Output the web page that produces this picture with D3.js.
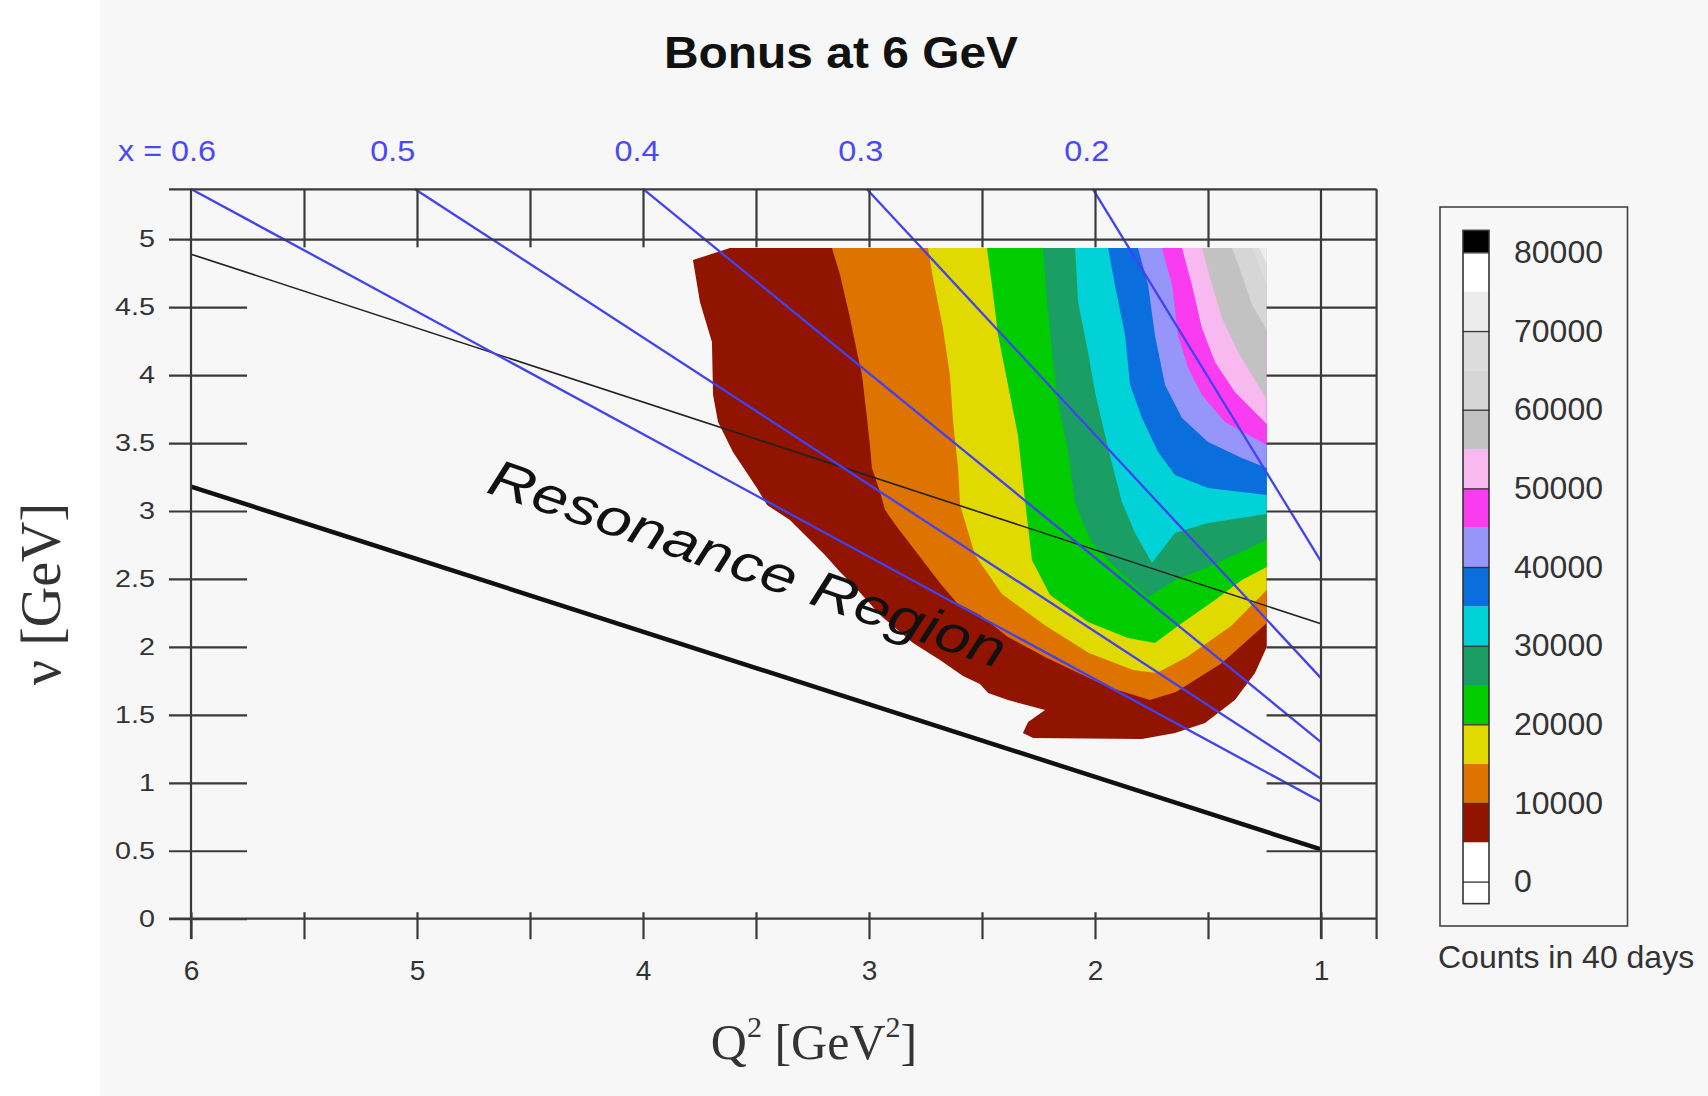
<!DOCTYPE html>
<html>
<head>
<meta charset="utf-8">
<title>Bonus at 6 GeV</title>
<script src="https://d3js.org/d3.v7.min.js"></script>
<style>
  body { margin: 0; background: #fff; }
  svg { display: block; font-family: "Liberation Sans", Arial, sans-serif; }
</style>
</head>
<body>
<svg id="chart"></svg>
<script>

// axis ticks
var q2Ticks = [6, 5.5, 5, 4.5, 4, 3.5, 3, 2.5, 2, 1.5, 1];
var nuTicks = [0, 0.5, 1, 1.5, 2, 2.5, 3, 3.5, 4, 4.5, 5];

// lines of constant x, [Q2, nu] where they leave the top frame and at Q2 = 1
var xLabels = ["x = 0.6", "0.5", "0.4", "0.3", "0.2"];
var xLineStart = [[6, 5.37], [5.01, 5.37], [4.0, 5.37], [3.01, 5.37], [2.01, 5.37]];
var xLineEnd = [[1, 0.86], [1, 1.03], [1, 1.30], [1, 1.77], [1, 2.63]];

// W = 2 GeV (thin) and x = 1 (thick) lines
var thinLine = [[6, 4.89], [1, 2.17]];
var thickLine = [[6, 3.18], [1, 0.51]];

// contour edges [Q2, nu], count levels 5000 ... 70000
var edge05 = [[3.615,4.935],[1.24,4.935],[1.24,2.0],[1.292,1.808],[1.381,1.609],[1.513,1.44],[1.646,1.366],
  [1.792,1.322],[2.274,1.33],[2.319,1.366],[2.296,1.447],[2.221,1.536],[2.385,1.609],[2.473,1.661],
  [2.509,1.727],[2.584,1.786],[2.686,1.904],[2.805,2.029],[2.951,2.235],[3.058,2.433],[3.128,2.551],
  [3.195,2.676],[3.261,2.787],[3.35,2.934],[3.451,3.044],[3.496,3.169],[3.602,3.434],[3.668,3.655],
  [3.69,3.854],[3.695,4.244],[3.748,4.538],[3.779,4.847]];
var edge10 = [[3.164,4.935],[3.128,4.737],[3.084,4.42],[3.053,4.17],[3.031,4.001],[3.009,3.684],[2.996,3.486],
  [2.987,3.316],[2.951,3.14],[2.929,3.007],[2.876,2.882],[2.774,2.662],[2.686,2.47],[2.611,2.323],
  [2.509,2.235],[2.385,2.073],[2.221,1.926],[1.942,1.705],[1.757,1.609],[1.642,1.668],[1.438,1.882],[1.24,2.176]];
var edge15 = [[2.739,4.935],[2.717,4.714],[2.673,4.347],[2.642,4.001],[2.628,3.655],[2.606,3.316],[2.597,3.044],
  [2.531,2.676],[2.412,2.389],[2.217,2.154],[2.027,1.955],[1.832,1.83],[1.726,1.808],[1.593,1.926],
  [1.398,2.154],[1.24,2.419]];
var edge20 = [[2.478,4.935],[2.456,4.663],[2.429,4.295],[2.385,3.927],[2.341,3.559],[2.31,3.081],[2.279,2.639],
  [2.199,2.382],[2.031,2.183],[1.854,2.066],[1.735,2.029],[1.615,2.176],[1.469,2.345],[1.35,2.492],[1.24,2.588]];
var edge25 = [[2.23,4.935],[2.212,4.538],[2.19,4.17],[2.164,3.802],[2.119,3.434],[2.088,3.066],[2.058,2.934],
  [2.013,2.765],[1.912,2.588],[1.765,2.367],[1.646,2.492],[1.5,2.588],[1.24,2.787]];
var edge30 = [[2.088,4.935],[2.075,4.538],[2.031,4.17],[2.0,3.876],[1.956,3.559],[1.912,3.265],[1.881,3.066],
  [1.823,2.838],[1.748,2.617],[1.646,2.838],[1.5,2.912],[1.24,2.978]];
var edge35 = [[1.942,4.935],[1.912,4.663],[1.867,4.295],[1.845,3.927],[1.792,3.684],[1.721,3.434],[1.646,3.265],
  [1.5,3.169],[1.24,3.118]];
var edge40 = [[1.81,4.935],[1.765,4.663],[1.735,4.295],[1.69,3.927],[1.615,3.684],[1.5,3.508],[1.35,3.39],[1.24,3.316]];
var edge45 = [[1.704,4.935],[1.659,4.663],[1.633,4.295],[1.588,4.052],[1.527,3.854],[1.425,3.655],[1.24,3.486]];
var edge50 = [[1.615,4.935],[1.571,4.663],[1.527,4.347],[1.469,4.096],[1.381,3.876],[1.24,3.64]];
var edge55 = [[1.527,4.935],[1.482,4.663],[1.438,4.42],[1.367,4.17],[1.24,3.82]];
var edge60 = [[1.394,4.935],[1.35,4.737],[1.305,4.516],[1.24,4.332]];
var edge65 = [[1.305,4.935],[1.24,4.663]];
var edge70 = [[1.275,4.935],[1.24,4.82]];
var contourLevels = [5000, 10000, 15000, 20000, 25000, 30000, 35000, 40000, 45000, 50000, 55000, 60000, 65000, 70000];

// colour bar
var legendTicks = [0, 10000, 20000, 30000, 40000, 50000, 60000, 70000, 80000];
var legendStops = [-2800, 0, 5000, 10000, 15000, 20000, 25000, 30000, 35000, 40000, 45000,
  50000, 55000, 60000, 65000, 70000, 75000, 80000, 82800];
var legendColors = ["#ffffff", "#ffffff", "#911400", "#de7300", "#e0da00", "#00cc00", "#1a9e64", "#00d2d7",
  "#0a6edc", "#9696fa", "#fa3cf0", "#f8b9f0", "#c2c2c2", "#d6d6d6", "#dcdcdc", "#ececec", "#ffffff", "#000000"];

var W = 1708, H = 1096;
var svg = d3.select('#chart').attr('width', W).attr('height', H);

svg.append('rect').attr('x', 100).attr('y', 0).attr('width', W - 100).attr('height', H).attr('fill', '#f7f7f7');

var x = d3.scaleLinear().domain([6, 1]).range([191, 1321]);
var y = d3.scaleLinear().domain([0, 5]).range([918.7, 239.2]);
var frameTop = 5.367, frameBottom = -0.149, frameLeft = 6.097, frameRight = 0.754;

var line = d3.line().x(function (d) { return x(d[0]); }).y(function (d) { return y(d[1]); });

// filled contours, lowest level first
var color = d3.scaleThreshold().domain(legendStops.slice(1, -1)).range(legendColors);
var edges = [edge05, edge10, edge15, edge20, edge25, edge30, edge35, edge40, edge45, edge50, edge55, edge60, edge65, edge70];
edges.forEach(function (e, i) {
    var pts = i === 0 ? e : e.concat([[1.24, 4.935]]);
    svg.append('path')
        .attr('d', line(pts) + 'Z')
        .attr('fill', color(contourLevels[i]));
});

// kinematic lines
svg.append('path').attr('d', line(thinLine)).attr('stroke', '#222').attr('stroke-width', 1.6).attr('fill', 'none');
svg.append('path').attr('d', line(thickLine)).attr('stroke', '#111').attr('stroke-width', 4.5).attr('fill', 'none');

xLineStart.forEach(function (s, i) {
    svg.append('path').attr('d', line([s, xLineEnd[i]]))
        .attr('stroke', '#4242f0').attr('stroke-width', 2.3).attr('fill', 'none');
    svg.append('text')
        .attr('x', i === 0 ? x(s[0]) + 25 : x(s[0]) - (i === 1 ? 22 : 6))
        .attr('y', 161)
        .attr('text-anchor', i === 0 ? 'end' : 'middle')
        .attr('fill', '#4a4af5')
        .style('font-size', '30px')
        .attr('textLength', i === 0 ? 98 : 45).attr('lengthAdjust', 'spacingAndGlyphs')
        .text(xLabels[i]);
});

// frame
var frameColor = '#3a3a3a';
[frameTop, 0].forEach(function (v) {
    svg.append('line').attr('x1', x(frameLeft)).attr('x2', x(frameRight)).attr('y1', y(v)).attr('y2', y(v))
        .attr('stroke', frameColor).attr('stroke-width', 2.2);
});
[6, 1, frameRight].forEach(function (q) {
    svg.append('line').attr('x1', x(q)).attr('x2', x(q)).attr('y1', y(frameTop)).attr('y2', y(frameBottom))
        .attr('stroke', frameColor).attr('stroke-width', 2.2);
});

var gLeft = svg.append('g').attr('transform', 'translate(' + x(6) + ',0)')
    .call(d3.axisLeft(y).tickValues(nuTicks).tickSize(22).tickPadding(14).tickFormat(d3.format('~g')));
gLeft.select('.domain').remove();
gLeft.selectAll('.tick line')
    .attr('x1', function (d) { return d === 5 ? x(frameRight) - x(6) : 56; });
gLeft.selectAll('.tick text')
    .attr('x', -36 / 1.25).attr('transform', 'scale(1.25,1)')
    .style('font-size', '23px').attr('fill', '#333');

var gBottom = svg.append('g').attr('transform', 'translate(0,' + y(0) + ')')
    .call(d3.axisBottom(x).tickValues(q2Ticks).tickSize(20.5).tickPadding(21)
        .tickFormat(function (d) { return d % 1 === 0 ? d : ''; }));
gBottom.select('.domain').remove();
gBottom.selectAll('.tick line').attr('y1', -6.5);
gBottom.selectAll('.tick text').style('font-size', '28px').attr('fill', '#333');

var gTop = svg.append('g').attr('transform', 'translate(0,' + y(frameTop) + ')')
    .call(d3.axisTop(x).tickValues(q2Ticks.slice(1, -1)).tickSize(-58).tickFormat(''));
gTop.select('.domain').remove();

var gRight = svg.append('g').attr('transform', 'translate(' + x(frameRight) + ',0)')
    .call(d3.axisRight(y).tickValues(nuTicks.slice(1, -1)).tickSize(-110).tickFormat(''));
gRight.select('.domain').remove();

[gLeft, gBottom, gTop, gRight].forEach(function (g) {
    g.attr('color', frameColor).selectAll('.tick line').attr('stroke-width', 2.2);
});

// texts
svg.append('text')
    .attr('transform', 'translate(' + x(4.699) + ',' + y(3.14) + ') rotate(19)')
    .attr('font-style', 'italic').style('font-size', '52px').attr('fill', '#111')
    .attr('textLength', 543).attr('lengthAdjust', 'spacingAndGlyphs')
    .text('Resonance Region');

svg.append('text')
    .attr('x', 841).attr('y', 68).attr('text-anchor', 'middle')
    .style('font-size', '45px').style('font-weight', 'bold').attr('fill', '#111')
    .attr('textLength', 354).attr('lengthAdjust', 'spacingAndGlyphs')
    .text('Bonus at 6 GeV');

svg.append('text')
    .attr('transform', 'translate(60,594) rotate(-90)').attr('text-anchor', 'middle')
    .style('font-family', '"Liberation Serif", serif').style('font-size', '56px').attr('fill', '#333')
    .text('\u03bd [GeV]');

var xl = svg.append('text').attr('x', 814).attr('y', 1059).attr('text-anchor', 'middle')
    .style('font-family', '"Liberation Serif", serif').style('font-size', '50px').attr('fill', '#333');
xl.append('tspan').text('Q');
xl.append('tspan').attr('dy', -22).style('font-size', '30px').text('2');
xl.append('tspan').attr('dy', 22).text(' [GeV');
xl.append('tspan').attr('dy', -22).style('font-size', '30px').text('2');
xl.append('tspan').attr('dy', 22).text(']');

// colour bar legend
var ls = d3.scaleLinear().domain([0, 80000]).range([881.6, 252.4]);
svg.append('rect').attr('x', 1440).attr('y', 207).attr('width', 187.5).attr('height', 719)
    .attr('fill', 'none').attr('stroke', '#444').attr('stroke-width', 1.6);
svg.selectAll('.band').data(legendColors).enter().append('rect')
    .attr('x', 1463).attr('width', 26)
    .attr('y', function (d, i) { return ls(legendStops[i + 1]); })
    .attr('height', function (d, i) { return ls(legendStops[i]) - ls(legendStops[i + 1]); })
    .attr('fill', function (d) { return d; });
svg.append('rect').attr('x', 1463).attr('y', ls(82800)).attr('width', 26)
    .attr('height', ls(-2800) - ls(82800))
    .attr('fill', 'none').attr('stroke', '#333').attr('stroke-width', 1.6);
var gLeg = svg.append('g').attr('transform', 'translate(1489,0)')
    .call(d3.axisRight(ls).tickValues(legendTicks).tickSize(-26).tickPadding(25).tickFormat(d3.format('d')));
gLeg.select('.domain').remove();
gLeg.attr('color', '#333');
gLeg.selectAll('.tick line').attr('stroke-width', 1.3);
gLeg.selectAll('.tick text').style('font-size', '32px').attr('fill', '#333');

svg.append('text').attr('x', 1438).attr('y', 968)
    .style('font-size', '32px').attr('fill', '#333')
    .text('Counts in 40 days');

</script>
</body>
</html>
